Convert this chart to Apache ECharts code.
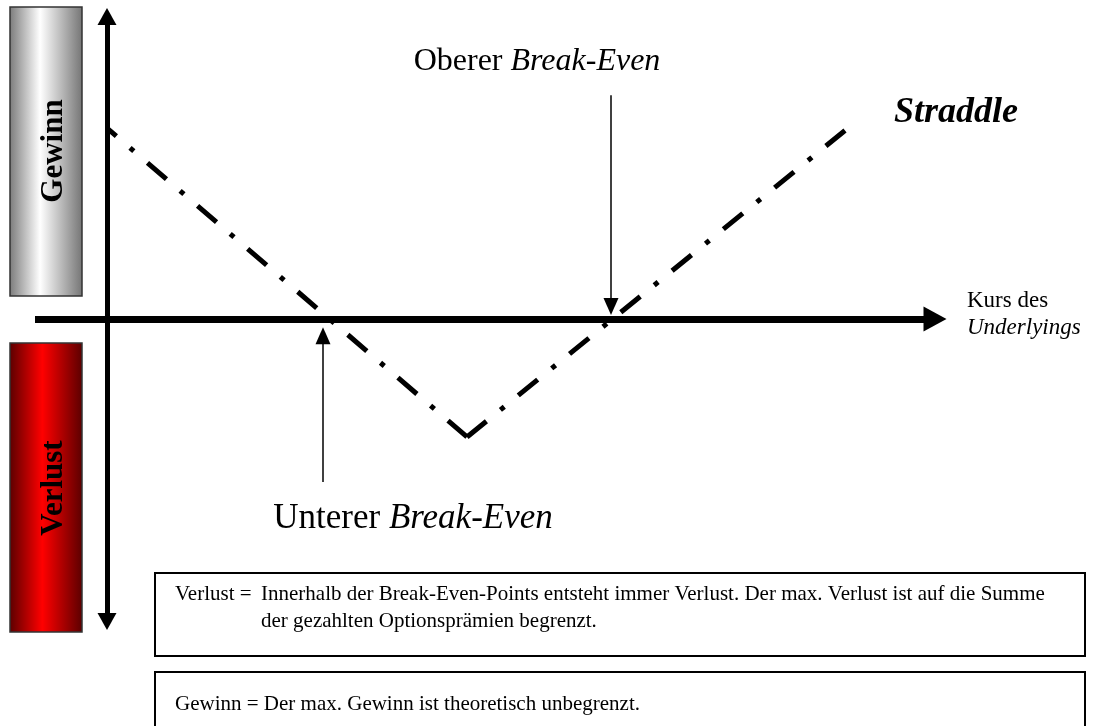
<!DOCTYPE html>
<html>

<head>
	<meta charset="UTF-8">
	<title></title>
	<style>
		html, body {
			margin: 0;
			padding: 0;
			background: #fff;
		}
		#chart {
			width: 1101px;
			height: 726px;
		}
	</style>
	<script src="https://cdn.jsdelivr.net/npm/echarts@6/dist/echarts.min.js"></script>
</head>

<body>
	<div id="chart"></div>
	<script>
		// Kurs des Underlyings (x) / Gewinn-Verlust (y): Start, Basispreis, Ende
		var kurs = [0, 40, 82];
		var ergebnis = [6.31, -3.9, 6.23];
		// Break-Even-Pfeile: x, y Anfang, y Spitze
		var oberer = [56, 7.4, 0.41];
		var unterer = [24, -5.39, -0.55];

		var serif = '"Liberation Serif", "Times New Roman", serif';

		var lineStyle = {
			color: '#000',
			width: 5,
			type: [25, 18, 5, 18],
			dashOffset: 0,
			cap: 'butt',
			join: 'miter'
		};

		// beide Aeste beginnen am Basispreis (Tiefpunkt)
		var linkerAst = [[kurs[1], ergebnis[1]], [kurs[0], ergebnis[0]]];
		var rechterAst = [[kurs[1], ergebnis[1]], [kurs[2], ergebnis[2]]];

		var mychart = echarts.init(document.getElementById('chart'));
		mychart.setOption({
			animation: false,
			grid: {
				left: 35,
				right: 166,
				top: 16.5,
				bottom: 104.5,
				containLabel: false
			},
			xAxis: {
				type: 'value',
				min: -8,
				max: 92,
				splitLine: { show: false },
				axisTick: { show: false },
				axisLabel: { show: false },
				axisLine: {
					show: true,
					onZero: true,
					symbol: ['none', 'triangle'],
					symbolSize: [25, 23],
					lineStyle: { color: '#000', width: 7, cap: 'butt' }
				}
			},
			yAxis: {
				type: 'value',
				min: -10,
				max: 10,
				splitLine: { show: false },
				axisTick: { show: false },
				axisLabel: { show: false },
				axisLine: {
					show: true,
					onZero: true,
					symbol: ['triangle', 'triangle'],
					symbolSize: [19, 17],
					lineStyle: { color: '#000', width: 5, cap: 'butt' }
				}
			},
			series: [
				{
					type: 'line',
					name: 'Straddle links',
					data: linkerAst,
					showSymbol: false,
					silent: true,
					z: 3,
					lineStyle: lineStyle
				},
				{
					type: 'line',
					name: 'Straddle rechts',
					data: rechterAst,
					showSymbol: false,
					silent: true,
					z: 3,
					lineStyle: lineStyle,
					markLine: {
						silent: true,
						symbol: ['none', 'triangle'],
						symbolSize: [15, 17],
						label: { show: false },
						lineStyle: { color: '#000', width: 1.5, type: 'solid' },
						data: [
							[
								{ coord: [oberer[0], oberer[1]] },
								{ coord: [oberer[0], oberer[2]] }
							],
							[
								{ coord: [unterer[0], unterer[1]] },
								{ coord: [unterer[0], unterer[2]] }
							]
						]
					}
				}
			],
			graphic: [
				{
					type: 'rect',
					shape: { x: 10, y: 7, width: 72, height: 289 },
					style: {
						fill: new echarts.graphic.LinearGradient(0, 0, 1, 0, [
							{ offset: 0, color: '#7a7a7a' },
							{ offset: 0.42, color: '#ffffff' },
							{ offset: 1, color: '#747474' }
						]),
						stroke: '#333',
						lineWidth: 1.5
					}
				},
				{
					type: 'rect',
					shape: { x: 10, y: 343, width: 72, height: 289 },
					style: {
						fill: new echarts.graphic.LinearGradient(0, 0, 1, 0, [
							{ offset: 0, color: '#5a0000' },
							{ offset: 0.45, color: '#ff0000' },
							{ offset: 1, color: '#5a0000' }
						]),
						stroke: '#333',
						lineWidth: 1.5
					}
				},
				{
					type: 'text',
					x: 54,
					y: 151,
					rotation: Math.PI / 2,
					style: {
						text: 'Gewinn',
						font: 'bold 31px ' + serif,
						fill: '#000',
						align: 'center',
						verticalAlign: 'middle'
					}
				},
				{
					type: 'text',
					x: 54,
					y: 488,
					rotation: Math.PI / 2,
					style: {
						text: 'Verlust',
						font: 'bold 31px ' + serif,
						fill: '#000',
						align: 'center',
						verticalAlign: 'middle'
					}
				},
				{
					type: 'text',
					x: 537,
					y: 62,
					style: {
						text: '{a|Oberer }{b|Break-Even}',
						align: 'center',
						verticalAlign: 'middle',
						rich: {
							a: { font: '32px ' + serif, fill: '#000' },
							b: { font: 'italic 32px ' + serif, fill: '#000' }
						}
					}
				},
				{
					type: 'text',
					x: 413,
					y: 519,
					style: {
						text: '{a|Unterer }{b|Break-Even}',
						align: 'center',
						verticalAlign: 'middle',
						rich: {
							a: { font: '35px ' + serif, fill: '#000' },
							b: { font: 'italic 35px ' + serif, fill: '#000' }
						}
					}
				},
				{
					type: 'text',
					x: 956,
					y: 113,
					style: {
						text: 'Straddle',
						font: 'italic bold 36px ' + serif,
						fill: '#000',
						align: 'center',
						verticalAlign: 'middle'
					}
				},
				{
					type: 'text',
					x: 967,
					y: 314,
					style: {
						text: '{a|Kurs des}\n{b|Underlyings}',
						align: 'left',
						verticalAlign: 'middle',
						rich: {
							a: { font: '23px ' + serif, fill: '#000', lineHeight: 27 },
							b: { font: 'italic 23px ' + serif, fill: '#000', lineHeight: 27 }
						}
					}
				},
				{
					type: 'rect',
					shape: { x: 155, y: 573, width: 930, height: 83 },
					style: { fill: '#fff', stroke: '#000', lineWidth: 2 }
				},
				{
					type: 'rect',
					shape: { x: 155, y: 672, width: 930, height: 70 },
					style: { fill: '#fff', stroke: '#000', lineWidth: 2 }
				},
				{
					type: 'text',
					x: 175,
					y: 594,
					style: {
						text: 'Verlust =',
						font: '21px ' + serif,
						fill: '#000',
						verticalAlign: 'middle'
					}
				},
				{
					type: 'text',
					x: 261,
					y: 594,
					style: {
						text: 'Innerhalb der Break-Even-Points entsteht immer Verlust. Der max. Verlust ist auf die Summe\nder gezahlten Optionsprämien begrenzt.',
						font: '21px ' + serif,
						lineHeight: 27,
						fill: '#000',
						verticalAlign: 'top',
						y: -13.5
					}
				},
				{
					type: 'text',
					x: 175,
					y: 704,
					style: {
						text: 'Gewinn = Der max. Gewinn ist theoretisch unbegrenzt.',
						font: '21px ' + serif,
						fill: '#000',
						verticalAlign: 'middle'
					}
				}
			]
		});
	</script>
</body>

</html>
